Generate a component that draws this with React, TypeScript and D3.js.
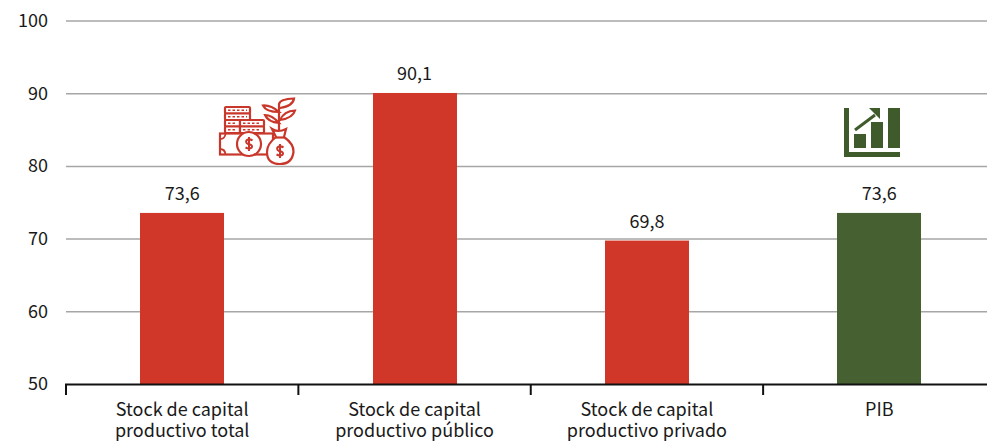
import React from "react";
import * as d3 from "d3";

const categories = [
  ["Stock de capital", "productivo total"],
  ["Stock de capital", "productivo público"],
  ["Stock de capital", "productivo privado"],
  ["PIB"],
];
const values = [73.6, 90.1, 69.8, 73.6];
const valueLabels = ["73,6", "90,1", "69,8", "73,6"];
const barColors = ["#D03728", "#D03728", "#D03728", "#476032"];
const yTicks = [50, 60, 70, 80, 90, 100];

const W = 987, H = 441;
const FONT = "'Noto Sans CJK SC', 'Noto Sans', sans-serif";
const x = d3.scaleBand<number>().domain([0, 1, 2, 3]).range([66, 995.5]).paddingInner(0).paddingOuter(0);
const y = d3.scaleLinear().domain([50, 100]).range([384.5, 21]);
const BAR = 84;
const RED = "#C9372B";
const GREEN = "#3F5A2B";

function Dollar({ cx, cy }: { cx: number; cy: number }) {
  return (
    <path
      transform={`translate(${cx},${cy})`}
      d="M3.5 -3.5 Q1.5 -5 -1 -4.5 Q-3.8 -3.5 -2.5 -1.2 Q-1.5 0 0.5 0.3 Q3.8 1.2 2.8 3.4 Q0.5 5.5 -3.5 3.5 M0 -7 V7"
      strokeWidth={2}
      fill="none"
    />
  );
}

function MoneyIcon() {
  const coins = [
    [225, 107, 25], [225, 113.5, 25], [225, 120, 15], [225, 126.5, 15],
    [240, 120, 24], [240, 126.5, 24],
  ];
  return (
    <g stroke={RED} fill="none" strokeWidth={2.2}>
      {coins.map((r, i) => (
        <g key={i}>
          <rect x={r[0]} y={r[1]} width={r[2]} height={6.5} rx={1} fill="#fff" />
          <line x1={r[0] + 3} x2={r[0] + r[2] - 3} y1={r[1] + 3.2} y2={r[1] + 3.2} strokeDasharray="2.5 2" strokeWidth={1.6} />
        </g>
      ))}
      <rect x={220} y={133.5} width={53} height={21} fill="#fff" />
      <path d="M220 139 q5 0 5.5 -5.5 M220 149 q5 0 5.5 5.5" strokeWidth={1.8} />
      <circle cx={249} cy={144} r={12} fill="#fff" />
      <Dollar cx={249} cy={144} />
      <path d="M272 129 Q278 133 286 129 L284 137 Q294 144 293.5 152 Q292 164 280 164 Q267 164 267 152 Q267 144 276 137 Z" fill="#fff" />
      <path d="M275.5 137.5 H284.5" />
      <Dollar cx={280} cy={151} />
      <path d="M279 130 V104 Q280 99 294 98.5 Q293 106 280 108" />
      <path d="M279 112 Q271 105 263 105.5 Q266 112 279 112 Z" />
      <path d="M280 120 Q284 111 295 110.5 Q293 118 280 120 Z" />
      <path d="M279 123 Q272 115 265 115 Q268 122 279 123 Z" />
    </g>
  );
}

function ChartIcon() {
  return (
    <g fill={GREEN}>
      <path d="M844 108 h5 v44 h51 v5 h-56 Z" />
      <rect x={854} y={134} width={12} height={14} />
      <rect x={871} y={122} width={12} height={26} />
      <rect x={888} y={108} width={12} height={40} />
      <path d="M855 130 L875 115" stroke={GREEN} strokeWidth={3} fill="none" />
      <path d="M869 108 H880 V119 Z" />
    </g>
  );
}

export default function App() {
  return (
    <svg width={W} height={H} viewBox={`0 0 ${W} ${H}`} style={{ position: "absolute", left: 0, top: 0, background: "#fff" }} fontFamily={FONT}>
      {yTicks.slice(1).map((t) => (
        <line key={t} x1={66} x2={W} y1={y(t)} y2={y(t)} stroke="#A6A6A6" strokeWidth={1.5} />
      ))}
      {yTicks.map((t) => (
        <text key={t} x={48} y={y(t) + 1} textAnchor="end" dominantBaseline="middle" fontSize={18} fill="#1a1a1a">{t}</text>
      ))}
      {values.map((v, i) => {
        const cx = x(i)! + x.bandwidth() / 2;
        return (
          <g key={i}>
            <rect x={Math.round(cx - BAR / 2)} y={y(v)} width={BAR} height={y(50) - y(v)} fill={barColors[i]} />
            <text x={cx} y={y(v) - 13} textAnchor="middle" fontSize={18} fill="#1a1a1a">{valueLabels[i]}</text>
            {categories[i].map((line, j) => (
              <text key={j} x={cx} y={416 + j * 21} textAnchor="middle" fontSize={18} fill="#1a1a1a">{line}</text>
            ))}
          </g>
        );
      })}
      <line x1={65} x2={W} y1={y(50)} y2={y(50)} stroke="#111" strokeWidth={2} />
      {[0, 1, 2, 3].map((i) => (
        <line key={i} x1={x(i)!} x2={x(i)!} y1={y(50)} y2={395} stroke="#111" strokeWidth={2} />
      ))}
      <MoneyIcon />
      <ChartIcon />
    </svg>
  );
}
